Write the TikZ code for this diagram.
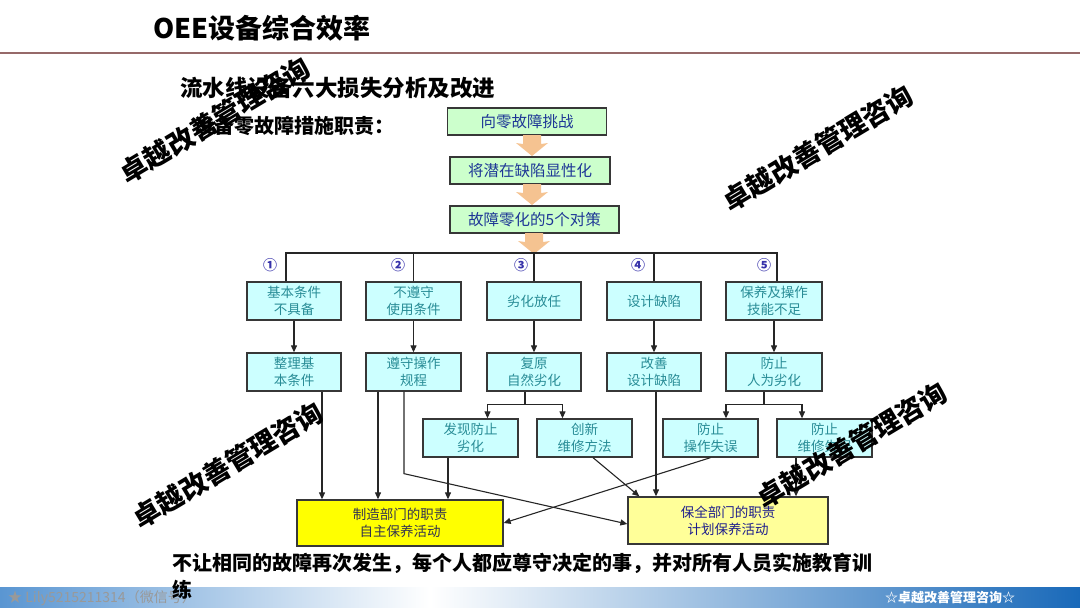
\documentclass[tikz,border=0pt]{standalone}
\usepackage{fontspec}
\setmainfont{Noto Sans CJK SC}
\usetikzlibrary{arrows.meta, positioning, calc}
\definecolor{boxline}{RGB}{55,55,55}
\definecolor{greenfill}{RGB}{204,255,204}
\definecolor{cyanfill}{RGB}{204,255,255}
\definecolor{tealtext}{RGB}{40,140,150}
\definecolor{navytext}{RGB}{30,55,150}
\definecolor{peach}{RGB}{245,195,145}
\definecolor{rulered}{RGB}{150,105,105}
\definecolor{bandblue}{RGB}{25,105,185}
\definecolor{bandlight}{RGB}{90,150,210}
\definecolor{numblue}{RGB}{55,50,170}

\begin{document}
\begin{tikzpicture}[x=1pt, y=-1pt,
    every node/.style={align=center, inner sep=0pt},
    greenbox/.style={draw=boxline, line width=1.3pt, fill=greenfill, text=navytext, minimum height=27pt, font=\fontsize{15.5}{18}\selectfont},
    cyanbox/.style={draw=boxline, line width=1.3pt, fill=cyanfill, text=tealtext, minimum width=95pt, minimum height=38pt, font=\fontsize{13.5}{17}\selectfont},
    dutybox/.style={draw=boxline, line width=1.3pt, font=\fontsize{13.5}{17}\selectfont},
    blockarrow/.pic={\fill[peach] (-9,-11) -- (9,-11) -- (9,-2) -- (16,-3) -- (0,10) -- (-16,-3) -- (-9,-2) -- cycle;},
    link/.style={draw=black!85, line width=1.1pt},
    arr/.style={link, -{Triangle[length=7pt, width=6pt]}},
    num/.style={text=numblue, font=\fontsize{14}{14}\selectfont\bfseries},
    watermark/.style={rotate=31, font=\fontsize{27}{27}\selectfont\bfseries}
  ]
  \useasboundingbox (0,0) rectangle (1080,608);

  % heading
  \node[anchor=west, font=\fontsize{27}{27}\selectfont\bfseries] (title) at (153,28) {OEE设备综合效率};
  \draw[rulered, line width=1.5pt] (0,53) -- (1080,53);
  \node[anchor=west, font=\fontsize{22.5}{23}\selectfont\bfseries] (subtitle) at (180,88) {流水线设备六大损失分析及改进};
  \node[anchor=east, font=\fontsize{20}{20}\selectfont\bfseries] (duty) at (395,126) {设备零故障措施职责：};

  % top chain
  \node[greenbox, minimum width=159pt] (challenge) at (527,121.5) {向零故障挑战};
  \node[greenbox, minimum width=160pt] (reveal) at (530,170.5) {将潜在缺陷显性化};
  \node[greenbox, minimum width=169pt] (measures) at (534.5,219.5) {故障零化的5个对策};
  \pic at (532,146) {blockarrow};
  \pic at (532,195) {blockarrow};
  \pic at (534,244) {blockarrow};

  % five causes
  \node[cyanbox, minimum width=94pt] (lack) at (294,301) {基本条件\\不具备};
  \node[cyanbox] (misuse) at (413.5,301) {不遵守\\使用条件};
  \node[cyanbox, minimum width=94pt] (neglect) at (534,301) {劣化放任};
  \node[cyanbox, minimum width=94pt] (flaw) at (654,301) {设计缺陷};
  \node[cyanbox, minimum width=96pt] (skills) at (774,301) {保养及操作\\技能不足};

  \node[num] (n1) at (270,265) {①};
  \node[num] (n2) at (398,265) {②};
  \node[num] (n3) at (521,265) {③};
  \node[num] (n4) at (638,265) {④};
  \node[num] (n5) at (764,265) {⑤};

  \coordinate (bus) at (0,253);
  \draw[link] ([xshift=-8pt]lack.north) |- ([xshift=3pt]skills.north |- bus) -- ([xshift=3pt]skills.north);
  \foreach \n in {misuse, neglect, flaw}
    \draw[link] (\n.north) -- (\n.north |- bus);

  % countermeasures
  \node[cyanbox, minimum width=94pt] (arrange) at (294,372) {整理基\\本条件};
  \node[cyanbox] (obey) at (413.5,372) {遵守操作\\规程};
  \node[cyanbox, minimum width=94pt] (restore) at (534,372) {复原\\自然劣化};
  \node[cyanbox, minimum width=94pt] (improve) at (654,372) {改善\\设计缺陷};
  \node[cyanbox, minimum width=96pt] (prevent) at (774,372) {防止\\人为劣化};

  \foreach \u/\v in {lack/arrange, misuse/obey, neglect/restore, flaw/improve, skills/prevent}
    \draw[arr] (\u) -- (\v);

  \node[cyanbox] (detect) at (470.5,438) {发现防止\\劣化};
  \node[cyanbox] (method) at (584.5,438) {创新\\维修方法};
  \node[cyanbox] (opslip) at (710.5,438) {防止\\操作失误};
  \node[cyanbox] (fixslip) at (824.5,438) {防止\\维修失误};

  \draw[arr] ([xshift=-9pt]restore.south) -- ++(0,13) -| ([xshift=17pt]detect.north);
  \draw[arr] ([xshift=-9pt]restore.south) ++(0,13) -| ([xshift=-22pt]method.north);
  \draw[arr] ([xshift=-10pt]prevent.south) -- ++(0,13) -| ([xshift=15.5pt]opslip.north);
  \draw[arr] ([xshift=-10pt]prevent.south) ++(0,13) -| ([xshift=-22.5pt]fixslip.north);

  % departments
  \node[dutybox, fill={rgb,255:red,255;green,255;blue,0}, text={rgb,255:red,50;green,50;blue,80}, minimum width=206pt, minimum height=46pt] (prod) at (400,523) {制造部门的职责\\自主保养活动};
  \node[dutybox, fill={rgb,255:red,255;green,255;blue,153}, text={rgb,255:red,30;green,30;blue,140}, minimum width=200pt, minimum height=47pt] (maint) at (728,520.5) {保全部门的职责\\计划保养活动};

  \draw[arr] ([xshift=28pt]arrange.south) -- ([xshift=28pt]arrange.south |- prod.north);
  \draw[arr] ([xshift=-35.5pt]obey.south) -- ([xshift=-35.5pt]obey.south |- prod.north);
  \draw[arr] ([xshift=-9.5pt]obey.south) -- ++(0,82) -- ([yshift=-3.5pt]maint.west);
  \draw[arr] ([xshift=-22.5pt]detect.south) -- ([xshift=-22.5pt]detect.south |- prod.north);
  \draw[arr] ([xshift=8.5pt]method.south) -- ([xshift=12pt]maint.north west);
  \draw[arr] ([xshift=2pt]improve.south) -- ([xshift=2pt]improve.south |- maint.north);
  \draw[arr] (opslip.south) -- (prod.east);
  \draw[arr] ([xshift=-28.5pt]fixslip.south) -- ([xshift=-28.5pt]fixslip.south |- maint.north);

  % footer band
  \shade[left color=bandlight, right color=white] (0,587) rectangle (430,608);
  \shade[left color=white, right color=bandblue] (430,587) rectangle (1080,608);
  \node[anchor=west, text=black!40, font=\fontsize{14}{14}\selectfont] (wechat) at (8,598) {★ Lily5215211314（微信号）};
  \node[text=white, font=\fontsize{13}{13}\selectfont\bfseries] (brand) at (950,598) {☆卓越改善管理咨询☆};

  % closing note
  \node[anchor=west, font=\fontsize{20}{20}\selectfont\bfseries] (note) at (172,563) {不让相同的故障再次发生，每个人都应尊守决定的事，并对所有人员实施教育训};
  \node[anchor=west, font=\fontsize{20}{20}\selectfont\bfseries] (note2) at (172,590) {练};

  % watermarks
  \node[watermark] (wm1) at (215,120) {卓越改善管理咨询};
  \node[watermark] (wm2) at (818,148) {卓越改善管理咨询};
  \node[watermark] (wm3) at (228,465) {卓越改善管理咨询};
  \node[watermark] (wm4) at (852,445) {卓越改善管理咨询};
\end{tikzpicture}
\end{document}
